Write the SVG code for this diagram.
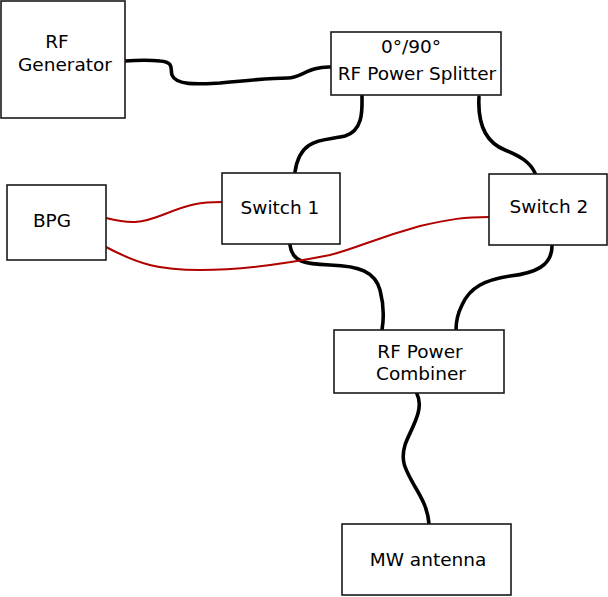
<svg xmlns="http://www.w3.org/2000/svg" width="608" height="597" viewBox="0 0 608 597">
<style>
.box{fill:#fff;stroke:#1a1a1a;stroke-width:1.6}
.t{font-family:"DejaVu Sans",Verdana,sans-serif;font-size:18.5px;fill:#000;text-anchor:middle}
.k{fill:none;stroke:#000;stroke-width:3.6;stroke-linecap:round}
.r{fill:none;stroke:#b00000;stroke-width:2}
</style>
<rect width="608" height="597" fill="#fff"/>
<g id="connectors">
<path class="k" d="M125,61 C140,60 150,60 160,61 C175,62 170,70 172,75 C176,86 200,84 220,83 C250,80 270,78 288,78 C300,78 310,66 331,67"/>
<path class="k" d="M362,96 C362,108 364,130 345,136 C325,141 300,136 295,172"/>
<path class="k" d="M479,97 C478,115 480,140 505,150 C520,156 530,162 535,173"/>
<path class="k" d="M290,245 C292,262 305,264 330,265 C360,266 375,272 380,290 C384,305 384,318 382,330"/>
<path class="k" d="M552,246 C552,266 535,273 510,276 C485,280 470,287 462,305 C457,315 456,322 456,330"/>
<path class="k" d="M417,394 C425,410 410,430 405,445 C400,462 406,470 414,485 C423,500 428,510 429,524"/>
<path class="r" d="M106,218 C130,224 140,224 165,214 C190,204 200,202 222,202"/>
<path class="r" d="M106,247 C140,265 160,270 200,270 C240,270 290,263 330,255 C360,247 370,240 420,226 C450,219 465,217 489,217"/>
</g>
<g id="rf-generator"><rect class="box" x="1" y="1" width="124" height="117"/><text class="t" x="57" y="48">RF</text><text class="t" x="65" y="71">Generator</text></g>
<g id="splitter"><rect class="box" x="331" y="32" width="170" height="63"/><text class="t" x="411" y="53">0°/90°</text><text class="t" x="417" y="80">RF Power Splitter</text></g>
<g id="bpg"><rect class="box" x="7" y="185" width="99" height="75"/><text class="t" x="52" y="227">BPG</text></g>
<g id="switch1"><rect class="box" x="222" y="173" width="118" height="71"/><text class="t" x="280" y="214">Switch 1</text></g>
<g id="switch2"><rect class="box" x="489" y="174" width="118" height="71"/><text class="t" x="549" y="213">Switch 2</text></g>
<g id="combiner"><rect class="box" x="334" y="330" width="170" height="63"/><text class="t" x="420" y="358">RF Power</text><text class="t" x="421" y="380">Combiner</text></g>
<g id="antenna"><rect class="box" x="342" y="524" width="169" height="71"/><text class="t" x="428" y="566">MW antenna</text></g>
</svg>
